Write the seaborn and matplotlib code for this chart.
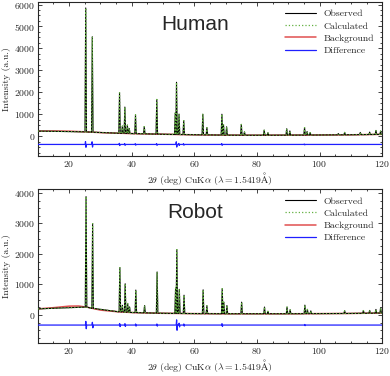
import numpy as np
import pandas as pd
import matplotlib
matplotlib.use("Agg")
import matplotlib.pyplot as plt
import matplotlib.ticker as ticker
import seaborn as sns

# ---- Human pattern: peak table (2theta, height above background)
human_peak_pos = [25.3, 27.4, 36.1, 37.0, 37.8, 38.6, 39.2, 41.2, 44.0, 48.0,
                  53.9, 54.3, 55.1, 56.6, 62.7, 64.0, 68.8, 69.3, 70.3, 75.0,
                  76.0, 82.3, 83.5, 89.5, 90.5, 95.2, 96.0, 97.0, 106.0, 108.0,
                  113.0, 116.0, 118.0, 119.5]
human_peak_h = [5650, 4350, 1850, 330, 1200, 380, 230, 860, 330, 1580,
                980, 2380, 930, 640, 940, 330, 950, 480, 380, 490,
                150, 230, 110, 290, 190, 340, 160, 110, 60, 110,
                100, 110, 180, 150]
human_bg_x = [10, 15, 20, 25, 30, 35, 40, 50, 60, 70, 80, 90, 100, 110, 120]
human_bg_y = [230, 235, 225, 195, 160, 135, 115, 85, 60, 45, 40, 45, 50, 60, 80]
human_diff_base = -380
human_diff_pos = [25.3, 27.4, 36.1, 37.8, 41.2, 48.0, 54.3, 55.1, 56.6, 68.8, 95.2]
human_diff_amp = [130, 120, 50, 40, 35, 40, 120, 45, 35, 40, 20]

# ---- Robot pattern
robot_peak_pos = [25.4, 27.5, 36.2, 37.0, 37.9, 38.7, 39.3, 41.3, 44.1, 48.1,
                  54.0, 54.4, 55.2, 56.7, 62.8, 64.0, 68.9, 69.4, 70.4, 75.1,
                  82.4, 83.5, 89.6, 90.6, 95.3, 96.1, 97.2, 108.0, 114.0, 116.0,
                  118.0, 119.5]
robot_peak_h = [3620, 2780, 1450, 220, 930, 290, 180, 740, 240, 1350,
                830, 2090, 790, 600, 780, 260, 820, 380, 270, 380,
                220, 80, 220, 130, 280, 140, 90, 90, 90, 90,
                120, 170]
robot_bg_x = [10, 15, 20, 23, 26, 30, 35, 40, 50, 60, 70, 80, 90, 100, 110, 120]
robot_bg_y = [200, 240, 290, 295, 250, 160, 110, 80, 55, 45, 40, 40, 40, 45, 50, 65]
robot_diff_base = -330
robot_diff_pos = [25.4, 27.5, 36.2, 37.9, 41.3, 48.1, 54.4, 55.2, 56.7, 68.9, 95.3]
robot_diff_amp = [120, 90, 50, 45, 35, 35, 170, 60, 35, 45, 20]

x_label = (r"$2\theta\ \mathrm{(deg)\ CuK}\alpha\ "
           r"\mathrm{(}\lambda\mathrm{=1.5419\AA)}$")


def build_pattern(peak_pos, peak_h, bg_x, bg_y, w=0.24):
    xs, ys = [bg_x[0]], [bg_y[0]]
    for p, h in zip(peak_pos, peak_h):
        b = np.interp(p, bg_x, bg_y)
        xs += [p - w, p, p + w]
        ys += [b, b + h, b]
    xs.append(bg_x[-1])
    ys.append(bg_y[-1])
    return pd.DataFrame({"x": xs, "y": ys})


def build_diff(base, pos, amp, lo=10, hi=120):
    xs, ys = [lo], [base]
    for p, a in zip(pos, amp):
        xs += [p - 0.2, p - 0.07, p + 0.07, p + 0.2]
        ys += [base, base + a, base - a, base]
    xs.append(hi)
    ys.append(base)
    return pd.DataFrame({"x": xs, "y": ys})


sns.set_theme(style="ticks")
plt.rcParams["font.family"] = ["cmr10", "DejaVu Serif"]
plt.rcParams["mathtext.fontset"] = "cm"
plt.rcParams["axes.formatter.use_mathtext"] = True
plt.rcParams["axes.unicode_minus"] = True

fig, axes = plt.subplots(2, 1, figsize=(3.9, 3.76), dpi=100)
fig.subplots_adjust(left=0.097, right=0.98, top=0.995, bottom=0.088, hspace=0.215)

panels = [
    ("Human", human_peak_pos, human_peak_h, human_bg_x, human_bg_y,
     human_diff_base, human_diff_pos, human_diff_amp, (-900, 6120), 1000),
    ("Robot", robot_peak_pos, robot_peak_h, robot_bg_x, robot_bg_y,
     robot_diff_base, robot_diff_pos, robot_diff_amp, (-915, 4130), 1000),
]

for ax, (name, pp, ph, bx, by, db, dp, da, ylim, ystep) in zip(axes, panels):
    obs = build_pattern(pp, ph, bx, by)
    diff = build_diff(db, dp, da)
    bg = pd.DataFrame({"x": bx, "y": by})
    sns.lineplot(data=bg, x="x", y="y", ax=ax, color="#e05050", lw=1.1,
                 label="Background", estimator=None, sort=False, zorder=2)
    sns.lineplot(data=obs, x="x", y="y", ax=ax, color="black", lw=0.8,
                 label="Observed", estimator=None, sort=False, zorder=3)
    sns.lineplot(data=obs, x="x", y="y", ax=ax, color="#62b040", lw=0.9,
                 ls=":", label="Calculated", estimator=None, sort=False, zorder=4)
    sns.lineplot(data=diff, x="x", y="y", ax=ax, color="#1f1fff", lw=0.9,
                 label="Difference", estimator=None, sort=False, zorder=3)

    ax.set_xlim(10, 120)
    ax.set_ylim(*ylim)
    ax.xaxis.set_major_locator(ticker.MultipleLocator(20))
    ax.xaxis.set_minor_locator(ticker.MultipleLocator(5))
    ax.yaxis.set_major_locator(ticker.MultipleLocator(ystep))
    ax.yaxis.set_minor_locator(ticker.MultipleLocator(250))
    ax.tick_params(which="both", direction="in", top=True, right=True,
                   labelsize=7, width=0.6, pad=2)
    ax.tick_params(which="major", length=3)
    ax.tick_params(which="minor", length=1.5)
    for s in ax.spines.values():
        s.set_linewidth(0.8)
    ax.set_ylabel("Intensity (a.u.)", fontsize=7, labelpad=2)
    ax.set_xlabel(x_label, fontsize=7, labelpad=1)
    ax.text(0.456, 0.85, name, transform=ax.transAxes, ha="center", va="center",
            fontsize=15, family="Liberation Sans")

    handles, labels = ax.get_legend_handles_labels()
    order = ["Observed", "Calculated", "Background", "Difference"]
    hmap = dict(zip(labels, handles))
    ax.legend([hmap[k] for k in order], order, loc="upper right", frameon=False,
              fontsize=7, handlelength=3.2, labelspacing=0.35,
              borderaxespad=0.4)

fig.savefig("out.png", dpi=100)
